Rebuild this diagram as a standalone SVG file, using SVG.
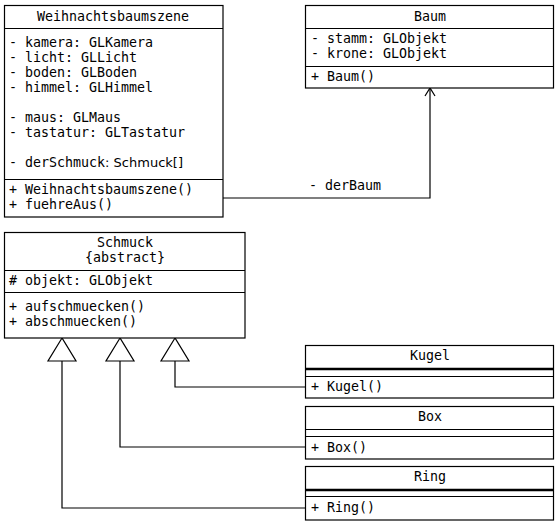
<svg xmlns="http://www.w3.org/2000/svg" width="558" height="524" viewBox="0 0 558 524">
<style>
.box{fill:#fff;stroke:#000;stroke-width:1.2}
.ln{stroke:#000;stroke-width:1.2;fill:none}
.thick{stroke:#000;stroke-width:2.5}
text{font-family:"DejaVu Sans Mono","Liberation Mono",monospace;font-size:13.3px;fill:#000}
.c{text-anchor:middle}
.p{font-family:"DejaVu Sans","Liberation Sans",sans-serif;font-size:13px}
</style>
<g id="connectors">
<polyline class="ln" points="223,198 430,198 430,89"/>
<path d="M425,96 L430,88 L435,96" class="ln"/>
<text x="309" y="190">- derBaum</text>
<polyline class="ln" points="62,361 62,508 305,508"/>
<polyline class="ln" points="120,361 120,447 305,447"/>
<polyline class="ln" points="175,361 175,387 305,387"/>
<polygon points="62,338 48,361 76,361" fill="#fff" stroke="#000" stroke-width="1.2"/>
<polygon points="120,338 106,361 134,361" fill="#fff" stroke="#000" stroke-width="1.2"/>
<polygon points="175,338 161,361 189,361" fill="#fff" stroke="#000" stroke-width="1.2"/>
</g>
<g id="Weihnachtsbaumszene">
<rect class="box" x="4.5" y="5.5" width="218.5" height="211.5"/>
<line class="ln" x1="4.5" y1="28.5" x2="223" y2="28.5"/>
<line class="ln" x1="4.5" y1="179.5" x2="223" y2="179.5"/>
<text class="c" x="113" y="21">Weihnachtsbaumszene</text>
<text x="9" y="47">- kamera: GLKamera</text>
<text x="9" y="62">- licht: GLLicht</text>
<text x="9" y="77">- boden: GLBoden</text>
<text x="9" y="92">- himmel: GLHimmel</text>
<text x="9" y="122">- maus: GLMaus</text>
<text x="9" y="137">- tastatur: GLTastatur</text>
<text x="9" y="167">- derSchmuck<tspan class="p">: Schmuck[]</tspan></text>
<text x="9" y="194">+ Weihnachtsbaumszene()</text>
<text x="9" y="209">+ fuehreAus()</text>
</g>
<g id="Baum">
<rect class="box" x="305.5" y="5.5" width="248" height="82.5"/>
<line class="ln" x1="305.5" y1="28.5" x2="553.5" y2="28.5"/>
<line class="ln" x1="305.5" y1="66.5" x2="553.5" y2="66.5"/>
<text class="c" x="430" y="21">Baum</text>
<text x="311" y="43">- stamm: GLObjekt</text>
<text x="311" y="58">- krone: GLObjekt</text>
<text x="311" y="81">+ Baum()</text>
</g>
<g id="Schmuck">
<rect class="box" x="4.5" y="232.5" width="240.5" height="105.5"/>
<line class="ln" x1="4.5" y1="270.5" x2="245" y2="270.5"/>
<line class="ln" x1="4.5" y1="292.5" x2="245" y2="292.5"/>
<text class="c" x="125" y="247">Schmuck</text>
<text class="c" x="125" y="262">{abstract}</text>
<text x="9" y="285"># objekt: GLObjekt</text>
<text x="9" y="311">+ aufschmuecken()</text>
<text x="9" y="326">+ abschmuecken()</text>
</g>
<g id="Kugel">
<rect class="box" x="305.5" y="345.5" width="248" height="52.5"/>
<line class="thick" x1="305.5" y1="369" x2="553.5" y2="369"/>
<line class="ln" x1="305.5" y1="376.5" x2="553.5" y2="376.5"/>
<text class="c" x="430" y="360">Kugel</text>
<text x="311" y="391">+ Kugel()</text>
</g>
<g id="Box">
<rect class="box" x="305.5" y="406.5" width="248" height="52.5"/>
<line class="ln" x1="305.5" y1="429.5" x2="553.5" y2="429.5"/>
<line class="ln" x1="305.5" y1="436.5" x2="553.5" y2="436.5"/>
<text class="c" x="430" y="421">Box</text>
<text x="311" y="452">+ Box()</text>
</g>
<g id="Ring">
<rect class="box" x="305.5" y="466.5" width="248" height="53.5"/>
<line class="thick" x1="305.5" y1="490" x2="553.5" y2="490"/>
<line class="ln" x1="305.5" y1="496.5" x2="553.5" y2="496.5"/>
<text class="c" x="430" y="481">Ring</text>
<text x="311" y="512">+ Ring()</text>
</g>
</svg>
